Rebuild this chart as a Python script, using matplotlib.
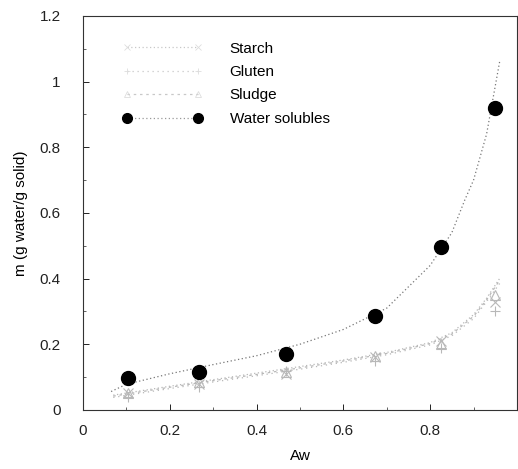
"""Moisture sorption isotherms: m vs Aw for four fractions."""

import matplotlib.pyplot as plt
from matplotlib.ticker import MultipleLocator

plt.rcParams["font.family"] = ["Liberation Sans", "DejaVu Sans"]

# measured points
aw_pts = [0.105, 0.267, 0.469, 0.673, 0.826, 0.950]
starch = [0.050, 0.080, 0.110, 0.160, 0.210, 0.330]
gluten = [0.040, 0.070, 0.120, 0.150, 0.190, 0.300]
sludge = [0.050, 0.085, 0.115, 0.165, 0.200, 0.350]
water_sol = [0.096, 0.115, 0.171, 0.286, 0.497, 0.919]

# fitted curves
aw_fit = [0.07, 0.2, 0.3, 0.4, 0.5, 0.6, 0.7, 0.8, 0.85, 0.9, 0.93, 0.96]
starch_fit = [0.045, 0.072, 0.092, 0.112, 0.132, 0.152, 0.175, 0.205, 0.235, 0.290, 0.34, 0.40]
gluten_fit = [0.038, 0.065, 0.085, 0.104, 0.124, 0.145, 0.168, 0.198, 0.226, 0.278, 0.33, 0.385]
sludge_fit = [0.042, 0.069, 0.089, 0.108, 0.128, 0.149, 0.172, 0.202, 0.231, 0.285, 0.335, 0.395]
water_fit_aw = [0.065, 0.1, 0.2, 0.3, 0.4, 0.5, 0.6, 0.7, 0.8, 0.85, 0.88, 0.9, 0.93, 0.96]
water_fit = [0.056, 0.078, 0.110, 0.138, 0.165, 0.200, 0.245, 0.310, 0.440, 0.540, 0.640, 0.700, 0.840, 1.060]

fig = plt.figure(figsize=(5.18, 4.69), dpi=100)
ax = fig.add_axes([0.160, 0.126, 0.838, 0.840])

light = "#b8b8b8"
series = [
    ("Starch", starch, starch_fit, "x", (0, (1, 2))),
    ("Gluten", gluten, gluten_fit, "+", (0, (1, 3))),
    ("Sludge", sludge, sludge_fit, "^", (0, (2, 3))),
]
for label, pts, fit, mk, ls in series:
    ax.plot(aw_fit, fit, color=light, lw=0.9, ls=ls)
    ax.plot(aw_pts, pts, ls="none", marker=mk, ms=7, mfc="none",
            mec=light, mew=0.8)
    # legend entry: faint line with faint end markers
    ax.plot([], [], color="#c8c8c8", lw=0.9, ls=ls, marker=mk, ms=5,
            mfc="none", mec="#dddddd", mew=0.6, label=label)

ax.plot(water_fit_aw, water_fit, color="#777777", lw=0.9, ls=(0, (1, 2)))
ax.plot(aw_pts, water_sol, ls="none", marker="o", ms=10, color="black")
ax.plot([], [], color="#999999", lw=0.9, ls=(0, (1, 2)), marker="o", ms=7,
        mfc="black", mec="black", label="Water solubles")

ax.set_xlim(0, 1.0)
ax.set_ylim(0, 1.2)
ax.xaxis.set_minor_locator(MultipleLocator(0.1))
ax.yaxis.set_minor_locator(MultipleLocator(0.1))
ax.set_xticks([0, 0.2, 0.4, 0.6, 0.8])
ax.set_xticklabels(["0", "0.2", "0.4", "0.6", "0.8"])
ax.set_yticks([0, 0.2, 0.4, 0.6, 0.8, 1.0, 1.2])
ax.set_yticklabels(["0", "0.2", "0.4", "0.6", "0.8", "1", "1.2"])
ax.tick_params(axis="x", which="major", direction="in", length=4, width=0.7,
               labelsize=11, pad=10, colors="#222222")
ax.tick_params(axis="y", which="major", direction="in", length=4, width=0.7,
               labelsize=11, pad=16, colors="#222222")
ax.tick_params(which="minor", direction="in", length=2, width=0.5,
               colors="#222222")
for sp in ax.spines.values():
    sp.set_linewidth(0.8)
    sp.set_color("#333333")

ax.set_xlabel("Aw", fontsize=11, labelpad=8)
ax.set_ylabel("m (g water/g solid)", fontsize=11, labelpad=8)

ax.legend(loc="upper left", bbox_to_anchor=(0.06, 0.97), frameon=False,
          fontsize=11, handlelength=5.2, handletextpad=1.8,
          labelspacing=0.62, numpoints=2)

fig.savefig("out.png", dpi=100)
